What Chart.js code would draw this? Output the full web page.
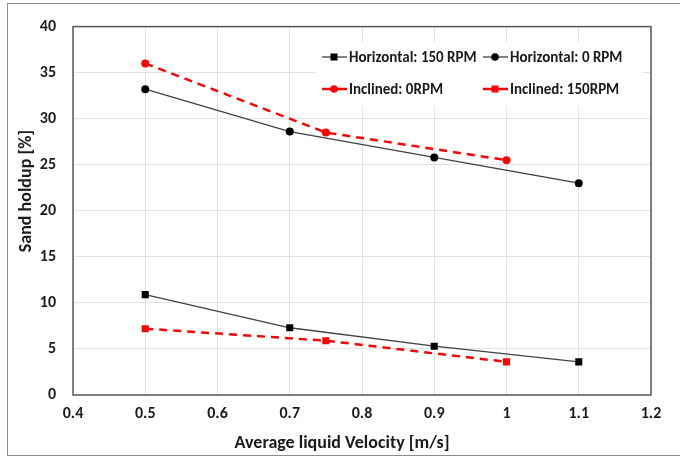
<!DOCTYPE html>
<html><head><meta charset="utf-8">
<script src="https://cdn.jsdelivr.net/npm/chart.js@4/dist/chart.umd.min.js"></script>
<style>
html,body{margin:0;padding:0;background:#fff;}
#wrap{position:relative;width:680px;height:459px;}
#frame{position:absolute;left:7px;top:3px;width:690px;height:453px;border:1.5px solid #8c8c8c;box-sizing:border-box;pointer-events:none;}
</style></head><body>
<div id="wrap"><canvas id="c" width="680" height="459"></canvas><div id="frame"></div></div>
<script>
const FONT = "Carlito, Lato, 'Liberation Sans', sans-serif";
const xTickLabels = ["0.4","0.5","0.6","0.7","0.8","0.9","1","1.1","1.2"];
const yTickLabels = ["0","5","10","15","20","25","30","35","40"];
const seriesNames = ["Horizontal: 150 RPM","Horizontal: 0 RPM","Inclined: 0RPM","Inclined: 150RPM"];
const horizVel = [0.5, 0.7, 0.9, 1.1];
const inclVel = [0.5, 0.75, 1.0];
const horiz150 = [10.9, 7.3, 5.3, 3.6];
const horiz0 = [33.2, 28.6, 25.8, 23.0];
const incl0 = [36.0, 28.5, 25.5];
const incl150 = [7.2, 5.9, 3.6];
const xTitle = "Average liquid Velocity [m/s]";
const yTitle = "Sand holdup [%]";

const pts = (xs, ys) => xs.map((x,i)=>({x:x, y:ys[i]}));

const datasets = [
  {label: seriesNames[0], data: pts(horizVel, horiz150), borderColor:'#404040', borderWidth:1.3,
   pointStyle:'rect', pointRadius:5, pointBackgroundColor:'#000', pointBorderColor:'#000', pointBorderWidth:0},
  {label: seriesNames[1], data: pts(horizVel, horiz0), borderColor:'#404040', borderWidth:1.3,
   pointStyle:'circle', pointRadius:4, pointBackgroundColor:'#000', pointBorderColor:'#000', pointBorderWidth:0},
  {label: seriesNames[2], data: pts(inclVel, incl0), borderColor:'#ff0000', borderWidth:2.5, borderDash:[8,6],
   pointStyle:'circle', pointRadius:4, pointBackgroundColor:'#ff0000', pointBorderColor:'#ff0000', pointBorderWidth:0},
  {label: seriesNames[3], data: pts(inclVel, incl150), borderColor:'#ff0000', borderWidth:2.5, borderDash:[8,6],
   pointStyle:'rect', pointRadius:5, pointBackgroundColor:'#ff0000', pointBorderColor:'#ff0000', pointBorderWidth:0}
];

const legendPlugin = {
  id:'customLegend',
  afterDraw(chart){
    const ctx = chart.ctx;
    ctx.save();
    ctx.fillStyle = '#fff';
    ctx.fillRect(316, 42, 326, 64);
    const pos = [[322,57],[483,57],[322,89],[483,89]];
    chart.data.datasets.forEach((ds,i)=>{
      const [x,y] = pos[i];
      ctx.strokeStyle = ds.borderColor;
      ctx.lineWidth = ds.borderWidth;
      ctx.setLineDash([]);
      ctx.beginPath(); ctx.moveTo(x,y); ctx.lineTo(x+25,y); ctx.stroke();
      ctx.fillStyle = ds.pointBackgroundColor;
      const cx = x+12;
      if (ds.pointStyle==='rect'){ ctx.fillRect(cx-3.5,y-3.5,7,7); }
      else { ctx.beginPath(); ctx.arc(cx,y,3.8,0,Math.PI*2); ctx.fill(); }
      ctx.fillStyle = '#1a1a1a';
      ctx.font = "bold 15px " + FONT;
      ctx.textAlign='left'; ctx.textBaseline='middle';
      ctx.fillText(ds.label, x+27, y+1);
    });
    // axis titles
    ctx.fillStyle = '#1a1a1a';
    ctx.font = "bold 18px " + FONT;
    ctx.textAlign='center'; ctx.textBaseline='middle';
    ctx.fillText(xTitle, 342, 443);
    ctx.translate(26, 191);
    ctx.rotate(-Math.PI/2);
    ctx.fillText(yTitle, 0, 0);
    ctx.restore();
    // plot border
    ctx.save();
    const a = chart.chartArea;
    ctx.strokeStyle = '#595959'; ctx.lineWidth = 1.5;
    ctx.strokeRect(a.left, a.top, a.right-a.left, a.bottom-a.top);
    ctx.restore();
  }
};

new Chart(document.getElementById('c'), {
  type:'line',
  data:{datasets},
  options:{
    responsive:false, animation:false,
    layout:{padding:{left:0, top:25, right:29, bottom:0}},
    plugins:{legend:{display:false}, tooltip:{enabled:false}},
    scales:{
      x:{type:'linear', min:0.4, max:1.2,
         afterFit(s){ s.height = 64; },
         afterBuildTicks(s){ s.ticks = xTickLabels.map(v=>({value: parseFloat(v)})); },
         ticks:{padding:9, color:'#1a1a1a', font:{family:FONT, size:16, weight:'bold'},
                callback:(v,i)=>xTickLabels[i], maxRotation:0, autoSkip:false},
         grid:{color:'#e3e3e3', lineWidth:1, drawTicks:false},
         border:{display:false}},
      y:{min:0, max:40,
         afterFit(s){ s.width = 73; },
         afterBuildTicks(s){ s.ticks = yTickLabels.map(v=>({value: parseFloat(v)})); },
         ticks:{padding:17, color:'#1a1a1a', font:{family:FONT, size:16, weight:'bold'},
                callback:(v,i)=>yTickLabels[i]},
         grid:{color:'#e3e3e3', lineWidth:1, drawTicks:false},
         border:{display:false}}
    }
  },
  plugins:[legendPlugin]
});
</script>
</body></html>
